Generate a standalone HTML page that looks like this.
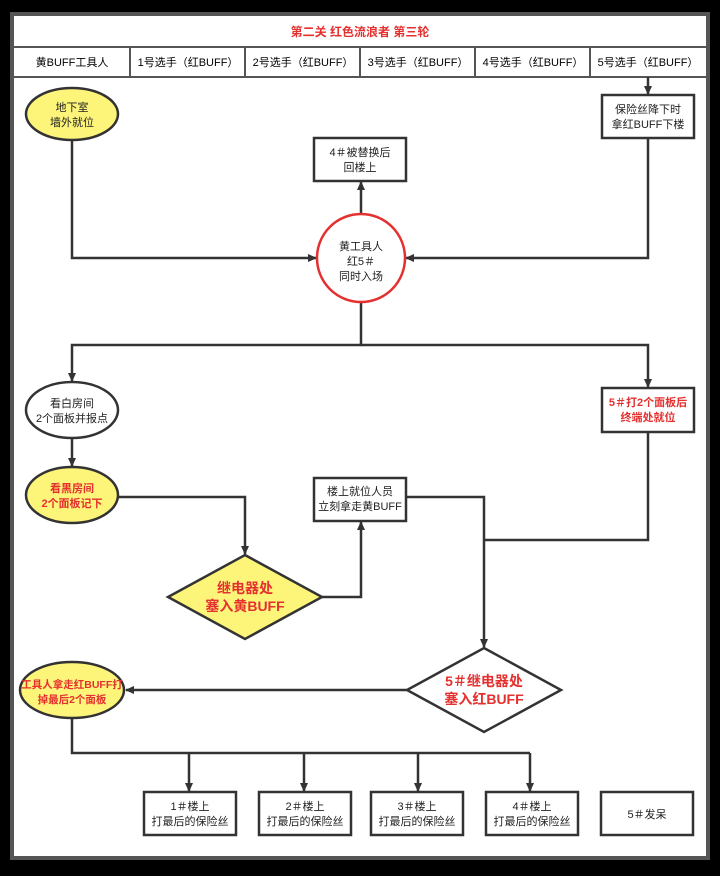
<!DOCTYPE html>
<html><head><meta charset="utf-8"><style>
body{margin:0;background:#000;width:720px;height:871px;overflow:hidden}
svg text{font-family:"Liberation Sans","Noto Sans CJK SC",sans-serif;font-size:11px;text-anchor:middle}
</style></head><body>
<svg width="720" height="871" viewBox="0 0 720 871">
<defs><marker id="a" markerWidth="10" markerHeight="10" refX="8" refY="4" orient="auto" markerUnits="userSpaceOnUse"><path d="M0,0 L9,4 L0,8 Z" fill="#333"/></marker></defs>
<rect x="12" y="14" width="696" height="844" fill="#fff" stroke="#555" stroke-width="4"/>
<line x1="14" y1="47" x2="706" y2="47" stroke="#555" stroke-width="2"/>
<line x1="14" y1="77" x2="706" y2="77" stroke="#555" stroke-width="2"/>
<g stroke="#555" stroke-width="2"><line x1="130" y1="47" x2="130" y2="77"/><line x1="245" y1="47" x2="245" y2="77"/><line x1="360" y1="47" x2="360" y2="77"/><line x1="475" y1="47" x2="475" y2="77"/><line x1="590" y1="47" x2="590" y2="77"/></g>
<text x="360" y="36" fill="#e53030" font-weight="bold" style="font-size:12px">第二关 红色流浪者 第三轮</text>
<g style="font-size:11px"><text x="72" y="66">黄BUFF工具人</text><text x="188" y="66">1号选手（红BUFF）</text><text x="303" y="66">2号选手（红BUFF）</text><text x="418" y="66">3号选手（红BUFF）</text><text x="533" y="66">4号选手（红BUFF）</text><text x="648" y="66">5号选手（红BUFF）</text></g>
<g fill="none" stroke="#333" stroke-width="2.5">
<line x1="648" y1="77" x2="648" y2="94" marker-end="url(#a)"/>
<polyline points="72,140 72,258 316,258" marker-end="url(#a)"/>
<polyline points="648,138 648,258 406,258" marker-end="url(#a)"/>
<line x1="361" y1="214" x2="361" y2="182" marker-end="url(#a)"/>
<polyline points="361,302 361,345 72,345 72,381" marker-end="url(#a)"/>
<polyline points="361,345 648,345 648,387" marker-end="url(#a)"/>
<line x1="72" y1="438" x2="72" y2="466" marker-end="url(#a)"/>
<polyline points="118,497 245,497 245,554" marker-end="url(#a)"/>
<polyline points="322,597 361,597 361,522" marker-end="url(#a)"/>
<polyline points="406,497 484,497 484,647" marker-end="url(#a)"/>
<polyline points="648,432 648,540 484,540"/>
<line x1="407" y1="690" x2="126" y2="690" marker-end="url(#a)"/>
<polyline points="72,718 72,753 530,753"/>
<line x1="189" y1="753" x2="189" y2="791" marker-end="url(#a)"/>
<line x1="304" y1="753" x2="304" y2="791" marker-end="url(#a)"/>
<line x1="418" y1="753" x2="418" y2="791" marker-end="url(#a)"/>
<line x1="530" y1="753" x2="530" y2="791" marker-end="url(#a)"/>
</g>
<g stroke="#333" stroke-width="2.5">
<ellipse cx="72" cy="114" rx="46" ry="26" fill="#fdf57a"/>
<rect x="602" y="95" width="92" height="43" fill="#fff"/>
<rect x="314" y="138" width="92" height="43" fill="#fff"/>
<circle cx="361" cy="258" r="44" fill="#fff" stroke="#e53030"/>
<ellipse cx="72" cy="410" rx="46" ry="28" fill="#fff"/>
<rect x="602" y="388" width="92" height="44" fill="#fff"/>
<ellipse cx="72" cy="495" rx="46" ry="28" fill="#fdf57a"/>
<rect x="314" y="478" width="92" height="43" fill="#fff"/>
<polygon points="245,555 322,597 245,639 168,597" fill="#fdf57a"/>
<polygon points="484,648 561,690 484,732 407,690" fill="#fff"/>
<ellipse cx="72" cy="690" rx="52" ry="28" fill="#fdf57a"/>
<rect x="144" y="792" width="92" height="43" fill="#fff"/>
<rect x="259" y="792" width="92" height="43" fill="#fff"/>
<rect x="371" y="792" width="92" height="43" fill="#fff"/>
<rect x="486" y="792" width="92" height="43" fill="#fff"/>
<rect x="601" y="792" width="92" height="43" fill="#fff"/>
</g>
<g fill="#222">
<text x="72" y="111">地下室</text><text x="72" y="126">墙外就位</text>
<text x="648" y="113">保险丝降下时</text><text x="648" y="128">拿红BUFF下楼</text>
<text x="360" y="156">4＃被替换后</text><text x="360" y="171">回楼上</text>
<text x="361" y="250">黄工具人</text><text x="361" y="265">红5＃</text><text x="361" y="280">同时入场</text>
<text x="72" y="407">看白房间</text><text x="72" y="422">2个面板并报点</text>
<text x="360" y="495">楼上就位人员</text><text x="360" y="510">立刻拿走黄BUFF</text>
</g>
<g fill="#e53030" font-weight="bold">
<text x="648" y="406">5＃打2个面板后</text><text x="648" y="421">终端处就位</text>
<text x="72" y="492">看黑房间</text><text x="72" y="507">2个面板记下</text>
<text x="245" y="593" style="font-size:14px">继电器处</text><text x="245" y="611" style="font-size:14px">塞入黄BUFF</text>
<text x="484" y="686" style="font-size:14px">5＃继电器处</text><text x="484" y="704" style="font-size:14px">塞入红BUFF</text>
<text x="72" y="688" style="font-size:10.5px">工具人拿走红BUFF打</text><text x="72" y="703" style="font-size:10.5px">掉最后2个面板</text>
</g>
<g fill="#222">
<text x="190" y="810">1＃楼上</text><text x="190" y="825">打最后的保险丝</text>
<text x="305" y="810">2＃楼上</text><text x="305" y="825">打最后的保险丝</text>
<text x="417" y="810">3＃楼上</text><text x="417" y="825">打最后的保险丝</text>
<text x="532" y="810">4＃楼上</text><text x="532" y="825">打最后的保险丝</text>
<text x="647" y="818">5＃发呆</text>
</g>
</svg>
</body></html>
